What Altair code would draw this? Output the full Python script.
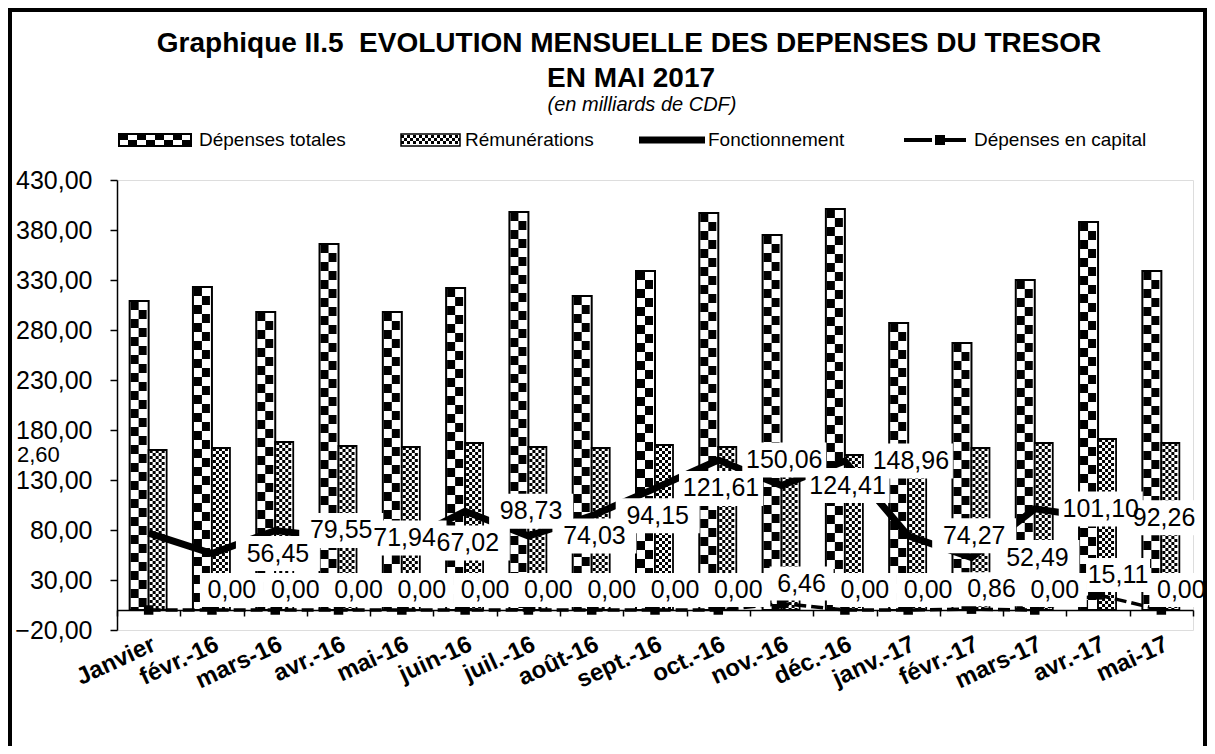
import altair as alt
import pandas as pd

months = ["Janvier", "févr.-16", "mars-16", "avr.-16", "mai-16", "juin-16", "juil.-16",
          "août-16", "sept.-16", "oct.-16", "nov.-16", "déc.-16", "janv.-17", "févr.-17",
          "mars-17", "avr.-17", "mai-17"]
depenses_totales = [309, 323, 298, 366, 298, 322, 398, 314, 339, 397, 375, 401, 287, 267, 330, 388, 339]
remunerations = [160, 162, 168, 164, 163, 167, 163, 162, 165, 163, 158, 155, 158, 162, 167, 171, 167]
fonctionnement = [76.83, 56.45, 79.55, 71.94, 67.02, 98.73, 74.03, 94.15, 121.61, 150.06,
                  124.41, 148.96, 74.27, 52.49, 101.10, 92.26, 95.00]
depenses_capital = [0.00, 0.00, 0.00, 0.00, 0.00, 0.00, 0.00, 0.00, 0.00, 0.00,
                    6.46, 0.00, 0.00, 0.86, 0.00, 15.11, 0.00]
fonct_labels = ["", "56,45", "79,55", "71,94", "67,02", "98,73", "74,03", "94,15", "121,61",
                "150,06", "124,41", "148,96", "74,27", "52,49", "101,10", "92,26", ""]
capital_labels = ["", "0,00", "0,00", "0,00", "0,00", "0,00", "0,00", "0,00", "0,00", "0,00",
                  "6,46", "0,00", "0,00", "0,86", "0,00", "15,11", "0,00"]
y_ticks = [-20, 30, 80, 130, 180, 230, 280, 330, 380, 430]

title_1 = "Graphique II.5\u00a0 EVOLUTION MENSUELLE DES DEPENSES DU TRESOR"
title_2 = "EN MAI 2017"
subtitle = "(en milliards de CDF)"
legend_names = ["Dépenses totales", "Rémunérations", "Fonctionnement", "Dépenses en capital"]
stray_label = "2,60"

df = pd.DataFrame({
    "mois": months, "tot": depenses_totales, "rem": remunerations,
    "fon": fonctionnement, "cap": depenses_capital,
    "fl": fonct_labels, "cl": capital_labels,
})

F = "Liberation Sans"
W, H = 1076, 450

X = alt.X("mois:N", sort=months, title=None,
          scale=alt.Scale(paddingInner=0, paddingOuter=0),
          axis=alt.Axis(orient="bottom", offset=-20, domainColor="black", domainWidth=1.5,
                        tickColor="black", tickWidth=1.5, tickSize=6, tickBand="extent",
                        labelAngle=-25, labelFont=F, labelFontWeight="bold", labelFontSize=24,
                        labelColor="black", labelPadding=16, labelAlign="right",
                        labelBaseline="top", labelOverlap=False, labelLimit=0, grid=False))


def Y(field):
    return alt.Y(f"{field}:Q", title=None,
                 scale=alt.Scale(domain=[-20, 430], nice=False, zero=False),
                 axis=alt.Axis(values=y_ticks,
                               labelExpr="replace(format(datum.value, '.2f'), '.', ',')",
                               labelFont=F, labelFontSize=25, labelColor="black",
                               labelPadding=18, domainColor="black", domainWidth=1.5,
                               tickColor="black", tickWidth=1.5, tickSize=7, grid=False,
                               labelOverlap=False, labelFlush=False))


base = alt.Chart()
layers = []

# Dépenses totales: white bar + checker pattern + outline
layers.append(base.mark_bar(width=19, xOffset=-9.5, color="white").encode(
    x=X, y=Y("tot"), y2=alt.datum(0)))
for xo, off in [(-14, 0), (-6, 9)]:
    layers.append(base.mark_rule(color="black", strokeWidth=8, strokeDash=[9, 9],
                                 strokeDashOffset=off, strokeCap="butt", xOffset=xo).encode(
        x=X, y=Y("tot"), y2=alt.datum(0)))
layers.append(base.mark_bar(width=19, xOffset=-9.5, fill="white", fillOpacity=0,
                            stroke="black", strokeWidth=2).encode(
    x=X, y=Y("tot"), y2=alt.datum(0)))

# Rémunérations: white bar + fine pattern + outline
layers.append(base.mark_bar(width=18, xOffset=9, color="white").encode(
    x=X, y=Y("rem"), y2=alt.datum(0)))
for i, xo in enumerate([2.5, 5.5, 8.5, 11.5, 14.5]):
    layers.append(base.mark_rule(color="black", strokeWidth=3, strokeDash=[3, 3],
                                 strokeDashOffset=3 * (i % 2), strokeCap="butt",
                                 xOffset=xo).encode(x=X, y=Y("rem"), y2=alt.datum(0)))
layers.append(base.mark_bar(width=18, xOffset=9, fill="white", fillOpacity=0,
                            stroke="black", strokeWidth=1.8).encode(
    x=X, y=Y("rem"), y2=alt.datum(0)))

# Fonctionnement line
layers.append(base.mark_line(color="black", strokeWidth=7).encode(x=X, y=Y("fon")))
# Dépenses en capital
layers.append(base.mark_line(color="black", strokeWidth=3.5, strokeDash=[12, 5]).encode(
    x=X, y=Y("cap")))
layers.append(base.mark_point(shape="square", filled=True, color="black", size=90,
                              opacity=1).encode(x=X, y=Y("cap")))

# Data labels with white boxes
fw, fh = 84, 35
layers.append(base.mark_point(shape=f"M-1,{-fh / fw:.3f}H1V{fh / fw:.3f}H-1Z", size=fw * fw,
                              filled=True, fill="white", opacity=1, strokeWidth=0,
                              xOffset=66).encode(x=X, y=Y("fon"))
              .transform_filter("datum.fl != ''"))
layers.append(base.mark_text(font=F, fontSize=25, color="black", dx=66, align="center",
                             baseline="middle").encode(x=X, y=Y("fon"), text="fl:N")
              .transform_filter("datum.fl != ''"))
cw, ch = 64, 34
layers.append(base.mark_point(shape=f"M-1,{-ch / cw:.3f}H1V{ch / cw:.3f}H-1Z", size=cw * cw,
                              filled=True, fill="white", opacity=1, strokeWidth=0,
                              xOffset=20, yOffset=-20).encode(x=X, y=Y("cap"))
              .transform_filter("datum.cl != ''"))
layers.append(base.mark_text(font=F, fontSize=25, color="black", dx=20, dy=-20,
                             align="center", baseline="middle").encode(
    x=X, y=Y("cap"), text="cl:N").transform_filter("datum.cl != ''"))

# Decorations (title, legend, frame)
one = alt.Data(values=[{"k": 0}])
deco = alt.Chart(one)
layers.append(deco.mark_text(font=F, fontSize=28, fontWeight="bold", color="black",
                             text=title_1, align="center", baseline="middle").encode(
    x=alt.value(512), y=alt.value(-136)))
layers.append(deco.mark_text(font=F, fontSize=28, fontWeight="bold", color="black",
                             text=title_2, align="center", baseline="middle").encode(
    x=alt.value(514), y=alt.value(-101)))
layers.append(deco.mark_text(font=F, fontSize=20, fontStyle="italic", color="black",
                             text=subtitle, align="center", baseline="middle").encode(
    x=alt.value(525), y=alt.value(-75)))
layers.append(deco.mark_text(font=F, fontSize=22, color="black", text=stray_label,
                             align="left", baseline="middle").encode(
    x=alt.value(-100), y=alt.value(275)))

# legend swatch 1
layers.append(deco.mark_rect(fill="white", stroke="black", strokeWidth=2).encode(
    x=alt.value(2), x2=alt.value(74), y=alt.value(-46), y2=alt.value(-34)))
for yy, off in [(-42.5, 0), (-37.5, 9)]:
    layers.append(deco.mark_rule(color="black", strokeWidth=5, strokeDash=[9, 9],
                                 strokeDashOffset=off).encode(
        x=alt.value(2), x2=alt.value(74), y=alt.value(yy)))
# legend swatch 2
layers.append(deco.mark_rect(fill="white", stroke="black", strokeWidth=1.5).encode(
    x=alt.value(284), x2=alt.value(343), y=alt.value(-46), y2=alt.value(-34)))
for i, yy in enumerate([-43.5, -40.5, -37.5]):
    layers.append(deco.mark_rule(color="black", strokeWidth=3, strokeDash=[3, 3],
                                 strokeDashOffset=3 * (i % 2)).encode(
        x=alt.value(284), x2=alt.value(343), y=alt.value(yy)))
# legend swatch 3
layers.append(deco.mark_rule(color="black", strokeWidth=7).encode(
    x=alt.value(522), x2=alt.value(588), y=alt.value(-40)))
# legend swatch 4
layers.append(deco.mark_rule(color="black", strokeWidth=4, strokeDash=[28, 6]).encode(
    x=alt.value(787), x2=alt.value(850), y=alt.value(-40)))
layers.append(deco.mark_point(shape="square", filled=True, color="black", size=100,
                              opacity=1).encode(x=alt.value(823), y=alt.value(-40)))
for xx, name in zip([82, 348, 591, 857], legend_names):
    layers.append(deco.mark_text(font=F, fontSize=19, color="black", text=name,
                                 align="left", baseline="middle").encode(
        x=alt.value(xx), y=alt.value(-40)))
# outer frame
layers.append(deco.mark_rect(fill="white", fillOpacity=0, stroke="black",
                             strokeWidth=4).encode(
    x=alt.value(-107), x2=alt.value(1088), y=alt.value(-170), y2=alt.value(640)))

chart = alt.layer(*layers, data=df).properties(
    width=W, height=H,
    autosize=alt.AutoSizeParams(type="none"),
    padding={"left": 109, "top": 172, "right": 14, "bottom": 116},
).configure_view(stroke="#808080", strokeWidth=2).configure(background="white")

chart.save("out.html", embed_options={"renderer": "svg", "actions": False})
